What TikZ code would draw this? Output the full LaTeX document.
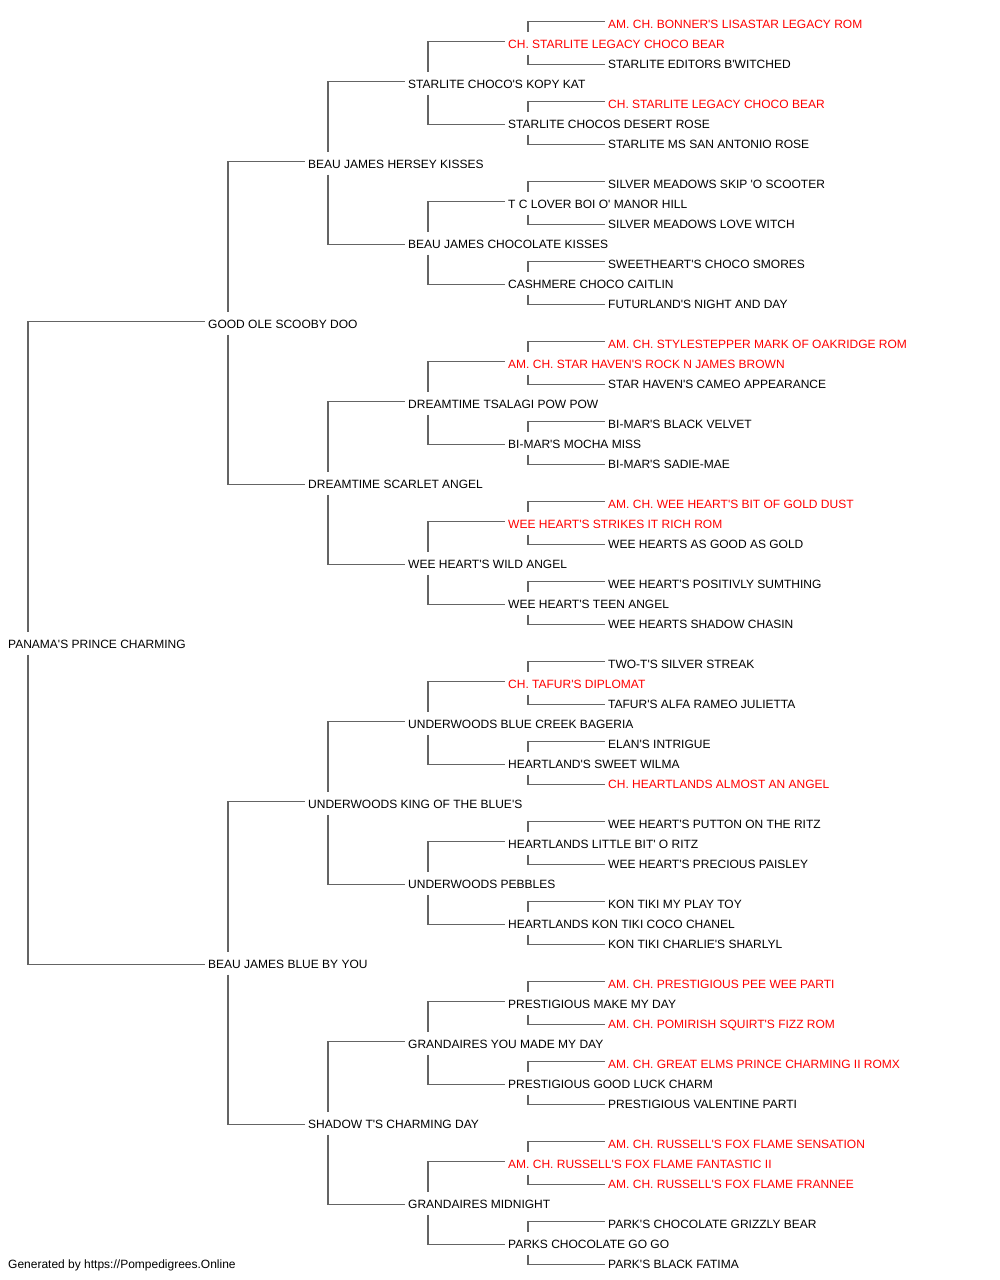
\documentclass[tikz,border=0pt]{standalone}
\usepackage{fontspec}
\newfontfamily\pedfont{Liberation Sans}
\definecolor{linegray}{RGB}{100,100,100}
\definecolor{champred}{RGB}{255,0,0}
\tikzset{
  dog/.style={anchor=west, inner xsep=3pt, inner ysep=0pt, text height=11.4pt, text depth=0pt,
              font=\pedfont\fontsize{12pt}{14pt}\selectfont, text=black},
  champ/.style={dog, text=champred},
  link/.style={draw=linegray, line width=1.9pt},
}
\newcommand\pedlinks[3]{%
  \draw[link] ([shift={(23pt,11.5pt)}]#1.west) |- ([yshift=1.5pt]#2.west);
  \draw[link] ([shift={(23pt,-11.5pt)}]#1.west) |- ([yshift=-1.5pt]#3.west);}
\begin{document}
\begin{tikzpicture}
\fill[white] (0,0) rectangle (1000pt,-1280pt);
\useasboundingbox (0,0) rectangle (1000pt,-1280pt);
% generation 5
\node[champ] (r0)  at (605pt,-23pt)   {AM. CH. BONNER'S LISASTAR LEGACY ROM};
\node[dog]   (r2)  at (605pt,-63pt)   {STARLITE EDITORS B'WITCHED};
\node[champ] (r4)  at (605pt,-103pt)  {CH. STARLITE LEGACY CHOCO BEAR};
\node[dog]   (r6)  at (605pt,-143pt)  {STARLITE MS SAN ANTONIO ROSE};
\node[dog]   (r8)  at (605pt,-183pt)  {SILVER MEADOWS SKIP 'O SCOOTER};
\node[dog]   (r10) at (605pt,-223pt)  {SILVER MEADOWS LOVE WITCH};
\node[dog]   (r12) at (605pt,-263pt)  {SWEETHEART'S CHOCO SMORES};
\node[dog]   (r14) at (605pt,-303pt)  {FUTURLAND'S NIGHT AND DAY};
\node[champ] (r16) at (605pt,-343pt)  {AM. CH. STYLESTEPPER MARK OF OAKRIDGE ROM};
\node[dog]   (r18) at (605pt,-383pt)  {STAR HAVEN'S CAMEO APPEARANCE};
\node[dog]   (r20) at (605pt,-423pt)  {BI-MAR'S BLACK VELVET};
\node[dog]   (r22) at (605pt,-463pt)  {BI-MAR'S SADIE-MAE};
\node[champ] (r24) at (605pt,-503pt)  {AM. CH. WEE HEART'S BIT OF GOLD DUST};
\node[dog]   (r26) at (605pt,-543pt)  {WEE HEARTS AS GOOD AS GOLD};
\node[dog]   (r28) at (605pt,-583pt)  {WEE HEART'S POSITIVLY SUMTHING};
\node[dog]   (r30) at (605pt,-623pt)  {WEE HEARTS SHADOW CHASIN};
\node[dog]   (r32) at (605pt,-663pt)  {TWO-T'S SILVER STREAK};
\node[dog]   (r34) at (605pt,-703pt)  {TAFUR'S ALFA RAMEO JULIETTA};
\node[dog]   (r36) at (605pt,-743pt)  {ELAN'S INTRIGUE};
\node[champ] (r38) at (605pt,-783pt)  {CH. HEARTLANDS ALMOST AN ANGEL};
\node[dog]   (r40) at (605pt,-823pt)  {WEE HEART'S PUTTON ON THE RITZ};
\node[dog]   (r42) at (605pt,-863pt)  {WEE HEART'S PRECIOUS PAISLEY};
\node[dog]   (r44) at (605pt,-903pt)  {KON TIKI MY PLAY TOY};
\node[dog]   (r46) at (605pt,-943pt)  {KON TIKI CHARLIE'S SHARLYL};
\node[champ] (r48) at (605pt,-983pt)  {AM. CH. PRESTIGIOUS PEE WEE PARTI};
\node[champ] (r50) at (605pt,-1023pt) {AM. CH. POMIRISH SQUIRT'S FIZZ ROM};
\node[champ] (r52) at (605pt,-1063pt) {AM. CH. GREAT ELMS PRINCE CHARMING II ROMX};
\node[dog]   (r54) at (605pt,-1103pt) {PRESTIGIOUS VALENTINE PARTI};
\node[champ] (r56) at (605pt,-1143pt) {AM. CH. RUSSELL'S FOX FLAME SENSATION};
\node[champ] (r58) at (605pt,-1183pt) {AM. CH. RUSSELL'S FOX FLAME FRANNEE};
\node[dog]   (r60) at (605pt,-1223pt) {PARK'S CHOCOLATE GRIZZLY BEAR};
\node[dog]   (r62) at (605pt,-1263pt) {PARK'S BLACK FATIMA};
% generation 4
\node[champ] (r1)  at (505pt,-43pt)   {CH. STARLITE LEGACY CHOCO BEAR};
\node[dog]   (r5)  at (505pt,-123pt)  {STARLITE CHOCOS DESERT ROSE};
\node[dog]   (r9)  at (505pt,-203pt)  {T C LOVER BOI O' MANOR HILL};
\node[dog]   (r13) at (505pt,-283pt)  {CASHMERE CHOCO CAITLIN};
\node[champ] (r17) at (505pt,-363pt)  {AM. CH. STAR HAVEN'S ROCK N JAMES BROWN};
\node[dog]   (r21) at (505pt,-443pt)  {BI-MAR'S MOCHA MISS};
\node[champ] (r25) at (505pt,-523pt)  {WEE HEART'S STRIKES IT RICH ROM};
\node[dog]   (r29) at (505pt,-603pt)  {WEE HEART'S TEEN ANGEL};
\node[champ] (r33) at (505pt,-683pt)  {CH. TAFUR'S DIPLOMAT};
\node[dog]   (r37) at (505pt,-763pt)  {HEARTLAND'S SWEET WILMA};
\node[dog]   (r41) at (505pt,-843pt)  {HEARTLANDS LITTLE BIT' O RITZ};
\node[dog]   (r45) at (505pt,-923pt)  {HEARTLANDS KON TIKI COCO CHANEL};
\node[dog]   (r49) at (505pt,-1003pt) {PRESTIGIOUS MAKE MY DAY};
\node[dog]   (r53) at (505pt,-1083pt) {PRESTIGIOUS GOOD LUCK CHARM};
\node[champ] (r57) at (505pt,-1163pt) {AM. CH. RUSSELL'S FOX FLAME FANTASTIC II};
\node[dog]   (r61) at (505pt,-1243pt) {PARKS CHOCOLATE GO GO};
% generation 3
\node[dog] (r3)  at (405pt,-83pt)   {STARLITE CHOCO'S KOPY KAT};
\node[dog] (r11) at (405pt,-243pt)  {BEAU JAMES CHOCOLATE KISSES};
\node[dog] (r19) at (405pt,-403pt)  {DREAMTIME TSALAGI POW POW};
\node[dog] (r27) at (405pt,-563pt)  {WEE HEART'S WILD ANGEL};
\node[dog] (r35) at (405pt,-723pt)  {UNDERWOODS BLUE CREEK BAGERIA};
\node[dog] (r43) at (405pt,-883pt)  {UNDERWOODS PEBBLES};
\node[dog] (r51) at (405pt,-1043pt) {GRANDAIRES YOU MADE MY DAY};
\node[dog] (r59) at (405pt,-1203pt) {GRANDAIRES MIDNIGHT};
% generation 2
\node[dog] (r7)  at (305pt,-163pt)  {BEAU JAMES HERSEY KISSES};
\node[dog] (r23) at (305pt,-483pt)  {DREAMTIME SCARLET ANGEL};
\node[dog] (r39) at (305pt,-803pt)  {UNDERWOODS KING OF THE BLUE'S};
\node[dog] (r55) at (305pt,-1123pt) {SHADOW T'S CHARMING DAY};
% generation 1
\node[dog] (r15) at (205pt,-323pt)  {GOOD OLE SCOOBY DOO};
\node[dog] (r47) at (205pt,-963pt)  {BEAU JAMES BLUE BY YOU};
% root
\node[dog] (r31) at (5pt,-643pt)    {PANAMA'S PRINCE CHARMING};
% footer
\node[dog] (footer) at (5pt,-1263pt) {Generated by https://Pompedigrees.Online};
% connectors
\pedlinks{r31}{r15}{r47}
\pedlinks{r15}{r7}{r23}
\pedlinks{r47}{r39}{r55}
\pedlinks{r7}{r3}{r11}
\pedlinks{r23}{r19}{r27}
\pedlinks{r39}{r35}{r43}
\pedlinks{r55}{r51}{r59}
\pedlinks{r3}{r1}{r5}
\pedlinks{r11}{r9}{r13}
\pedlinks{r19}{r17}{r21}
\pedlinks{r27}{r25}{r29}
\pedlinks{r35}{r33}{r37}
\pedlinks{r43}{r41}{r45}
\pedlinks{r51}{r49}{r53}
\pedlinks{r59}{r57}{r61}
\pedlinks{r1}{r0}{r2}
\pedlinks{r5}{r4}{r6}
\pedlinks{r9}{r8}{r10}
\pedlinks{r13}{r12}{r14}
\pedlinks{r17}{r16}{r18}
\pedlinks{r21}{r20}{r22}
\pedlinks{r25}{r24}{r26}
\pedlinks{r29}{r28}{r30}
\pedlinks{r33}{r32}{r34}
\pedlinks{r37}{r36}{r38}
\pedlinks{r41}{r40}{r42}
\pedlinks{r45}{r44}{r46}
\pedlinks{r49}{r48}{r50}
\pedlinks{r53}{r52}{r54}
\pedlinks{r57}{r56}{r58}
\pedlinks{r61}{r60}{r62}
\end{tikzpicture}
\end{document}
